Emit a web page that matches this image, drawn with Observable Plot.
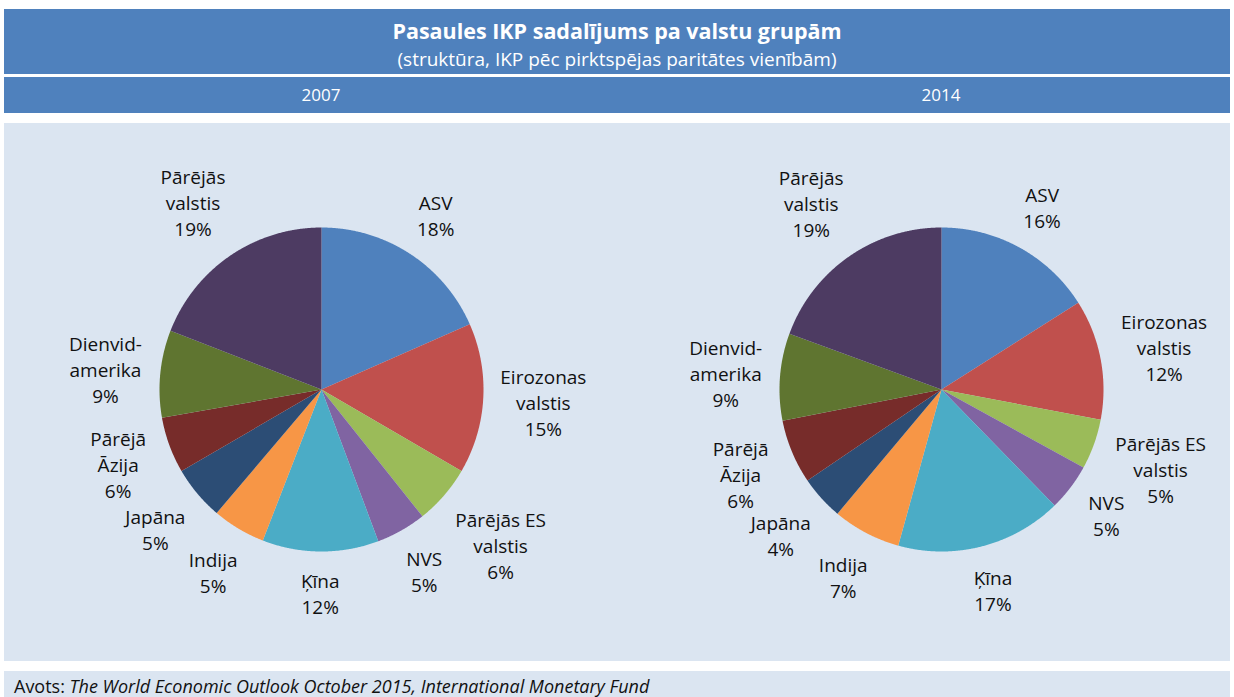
<!DOCTYPE html>
<html>
<head>
<meta charset="utf-8">
<script src="https://cdn.jsdelivr.net/npm/d3@7"></script>
<script src="https://cdn.jsdelivr.net/npm/@observablehq/plot@0.6"></script>
<style>
  body { margin: 0; background: #ffffff; font-family: "Open Sans", sans-serif; }
  #wrap { position: relative; width: 1234px; height: 697px; overflow: hidden; background: #fff; }
  .band { position: absolute; left: 4px; width: 1226px; background: #4F81BD; color: #fff; }
  #title { position: absolute; left: 0; right: 0; top: 11px; text-align: center; font-weight: bold; font-size: 21.5px; line-height: 22px; }
  #subtitle { position: absolute; left: 0; right: 0; top: 40px; text-align: center; font-size: 19px; line-height: 20px; }
  .yr { position: absolute; top: 0; height: 36px; line-height: 36px; font-size: 17px; transform: translateX(-50%); }
  #panel { position: absolute; left: 4px; top: 123px; width: 1226px; height: 538px; background: #DBE5F1; }
  #footer { position: absolute; left: 4px; top: 671px; width: 1226px; height: 26px; background: #DBE5F1; }
  #footer span { position: absolute; left: 10px; top: 3px; font-size: 18px; line-height: 24px; color: #111; white-space: nowrap; }
</style>
</head>
<body>
<div id="wrap">
  <div class="band" style="top:9px;height:65px">
    <div id="title">Pasaules IKP sadalījums pa valstu grupām</div>
    <div id="subtitle">(struktūra, IKP pēc pirktspējas paritātes vienībām)</div>
  </div>
  <div class="band" id="yearband" style="top:77px;height:36px"></div>
  <div id="panel"></div>
  <div id="footer"><span>Avots: <i>The World Economic Outlook October 2015, International Monetary Fund</i></span></div>
</div>
<script>
// ---- data ----
const categories = ["ASV", "Eirozonas valstis", "Pārējās ES valstis", "NVS", "Ķīna", "Indija", "Japāna", "Pārējā Āzija", "Dienvidamerika", "Pārējās valstis"];
const labelLines = [["ASV"], ["Eirozonas", "valstis"], ["Pārējās ES", "valstis"], ["NVS"], ["Ķīna"], ["Indija"], ["Japāna"], ["Pārējā", "Āzija"], ["Dienvid-", "amerika"], ["Pārējās", "valstis"]];
const years = ["2007", "2014"];
const share2007 = [18.4, 15.0, 5.9, 5.0, 11.6, 5.3, 5.4, 5.6, 8.7, 19.1];
const share2014 = [16.0, 12.0, 5.0, 4.7, 16.6, 6.8, 4.4, 6.4, 8.7, 19.4];
const palette = ["#4F81BD", "#C0504D", "#9BBB59", "#8064A2", "#4BACC6", "#F79646", "#2C4D75", "#772C2A", "#5F7530", "#4D3B62"];

// ---- layout ----
const W = 1226, H = 538;
const R = 162;                       // pie radius in px
const cxPx = [317, 937], cyPx = 266; // pie centres in px within the panel
const fontSize = 19, lineH = 26, gap = 15;

const xDomain = [-cxPx[0] / R, (W - cxPx[0]) / R];
const yDomain = [-(H - cyPx) / R, cyPx / R];
const centers = cxPx.map(px => ({x: (px - cxPx[0]) / R, y: 0}));

// year band labels
const yb = document.getElementById("yearband");
years.forEach((y, i) => {
  const d = document.createElement("div");
  d.className = "yr"; d.style.left = cxPx[i] + "px"; d.textContent = y;
  yb.appendChild(d);
});

// measure label widths
const ctx = document.createElement("canvas").getContext("2d");
ctx.font = `${fontSize}px "Open Sans"`;

const shares = [share2007, share2014];
const slicePts = [], labels = [];
const pie = d3.pie().sort(null).value(d => d);

shares.forEach((vals, yi) => {
  const c = centers[yi];
  const arcs = pie(vals);
  arcs.forEach((a, i) => {
    const key = years[yi] + "|" + i;
    slicePts.push({key, cat: categories[i], x: c.x, y: c.y});
    const steps = Math.max(2, Math.ceil((a.endAngle - a.startAngle) / 0.005));
    for (let s = 0; s <= steps; s++) {
      const t = a.startAngle + (a.endAngle - a.startAngle) * s / steps;
      slicePts.push({key, cat: categories[i], x: c.x + Math.sin(t), y: c.y + Math.cos(t)});
    }
    const lines = [...labelLines[i], Math.round(a.value) + "%"];
    const hw = d3.max(lines, l => ctx.measureText(l).width) / 2;
    const hh = lines.length * lineH / 2;
    const m = (a.startAngle + a.endAngle) / 2;
    const ext = Math.abs(Math.sin(m)) * hw + Math.abs(Math.cos(m)) * hh;
    const dist = (R + gap + ext) / R;
    labels.push({x: c.x + Math.sin(m) * dist, y: c.y + Math.cos(m) * dist, text: lines.join("\n")});
  });
});

const chart = Plot.plot({
  width: W, height: H,
  margin: 0,
  style: {background: "transparent", fontFamily: "'Open Sans', sans-serif"},
  x: {domain: xDomain, range: [0, W], axis: null},
  y: {domain: yDomain, range: [H, 0], axis: null},
  color: {domain: categories, range: palette},
  marks: [
    Plot.line(slicePts, {x: "x", y: "y", z: "key", fill: "cat", stroke: null, curve: "linear-closed"}),
    Plot.text(labels, {x: "x", y: "y", text: "text", fontSize, lineHeight: lineH / fontSize, fill: "#111", lineAnchor: "middle"})
  ]
});
document.getElementById("panel").appendChild(chart);
</script>
</body>
</html>
